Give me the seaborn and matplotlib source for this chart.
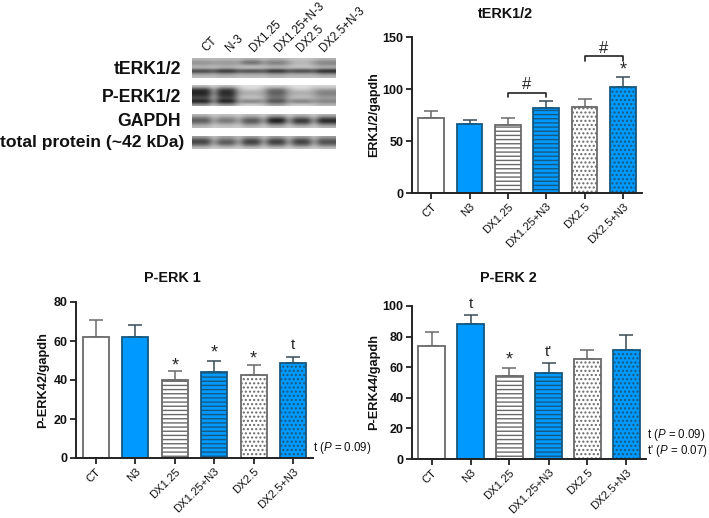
import numpy as np
import matplotlib
matplotlib.use('Agg')
import matplotlib.pyplot as plt
import seaborn as sns

W, H = 709, 518

categories = ['CT', 'N3', 'DX1.25', 'DX1.25+N3', 'DX2.5', 'DX2.5+N3']
lane_labels = ['CT', 'N-3', 'DX1.25', 'DX1.25+N-3', 'DX2.5', 'DX2.5+N-3']

terk_values = [72, 66, 65, 81.5, 83, 102]
terk_tops = [79, 70, 72, 88, 90, 112]
perk1_values = [62, 62, 40, 44, 42.5, 48.5]
perk1_tops = [71, 68, 44.5, 50, 47.5, 52]
perk2_values = [74, 88, 54, 56, 65.5, 71.5]
perk2_tops = [83, 94, 59.5, 62.5, 71, 81]

# blot band darkness per lane, top to bottom (0 black, 255 white)
blot_terk = [[185, 185, 180, 180, 195, 180],
             [140, 150, 90, 115, 180, 125],
             [165, 165, 165, 155, 190, 150],
             [195, 190, 210, 195, 200, 190],
             [35, 15, 40, 10, 35, 0],
             [155, 150, 165, 150, 165, 140],
             [190, 185, 190, 185, 190, 185]]
blot_perk = [[195, 195, 225, 210, 225, 215],
             [50, 60, 205, 110, 205, 160],
             [30, 40, 165, 90, 165, 120],
             [50, 50, 185, 110, 185, 140],
             [90, 80, 195, 120, 185, 160],
             [5, 5, 105, 65, 105, 120],
             [160, 160, 215, 170, 210, 185]]
blot_gapdh = [[185, 195, 190, 180, 185, 180],
              [110, 140, 120, 70, 100, 85],
              [85, 110, 75, 10, 35, 20],
              [140, 165, 130, 105, 110, 110],
              [190, 200, 190, 185, 190, 185]]
blot_total = [[160, 165, 160, 160, 160, 160],
              [75, 110, 75, 75, 75, 90],
              [65, 80, 60, 55, 60, 75],
              [115, 130, 110, 110, 110, 120],
              [195, 200, 195, 195, 195, 195]]

sns.set_theme(style='ticks')
plt.rcParams['font.family'] = ['Liberation Sans', 'DejaVu Sans']
plt.rcParams['mathtext.fontset'] = 'custom'
plt.rcParams['mathtext.it'] = 'Liberation Sans:italic'
plt.rcParams['mathtext.rm'] = 'Liberation Sans'
plt.rcParams['hatch.linewidth'] = 1.0

BLUE = '#0099ff'
DARK = '#222222'
GREY_EDGE = '#6a6a6a'
BLUE_EDGE = '#17587f'

fig = plt.figure(figsize=(W / 100, H / 100), dpi=100, facecolor='white')


def px_axes(left, top, right, bottom):
    return fig.add_axes([left / W, 1 - bottom / H, (right - left) / W, (bottom - top) / H])


def px_text(x, y, s, **kw):
    kw.setdefault('ha', 'center')
    kw.setdefault('va', 'center')
    kw.setdefault('color', '#111111')
    return fig.text(x / W, 1 - y / H, s, **kw)


def bar_chart(rect, values, tops, ymax, yticks):
    ax = px_axes(*rect)
    palette = ['white', BLUE, 'white', BLUE, 'white', BLUE]
    sns.barplot(x=categories, y=values, hue=categories, palette=palette, saturation=1,
                legend=False, width=0.67, ax=ax, zorder=2)
    hatches = ['', '', '----', '----', '....', '....']
    for i, bar in enumerate(ax.patches[:6]):
        edge = GREY_EDGE if i % 2 == 0 else BLUE_EDGE
        bar.set_edgecolor(edge)
        bar.set_linewidth(1.3)
        bar.set_hatch(hatches[i])
        lower = [0]
        upper = [tops[i] - values[i]]
        ax.errorbar(i, values[i], yerr=[lower, upper], color=edge if i % 2 == 0 else '#3a4a55',
                    capsize=4.7, capthick=1.1, elinewidth=1.1, zorder=1)
    ax.set_xlim(-0.5, 5.5)
    ax.set_ylim(0, ymax)
    ax.set_yticks(yticks)
    ax.set_xticks(range(6))
    ax.set_xticklabels(categories, rotation=45, ha='right', rotation_mode='anchor',
                       fontsize=8.1, color='#111111')
    ax.tick_params(axis='y', labelsize=9, length=4, width=1.3, color=DARK, pad=2, labelcolor='#111111')
    ax.tick_params(axis='x', length=4, width=1.3, color=DARK, pad=2)
    for label in ax.get_yticklabels():
        label.set_fontweight('bold')
    sns.despine(ax=ax)
    for side in ['left', 'bottom']:
        ax.spines[side].set_linewidth(1.4)
        ax.spines[side].set_color(DARK)
    return ax


def bracket(ax, a, b, top, leg):
    ax.plot([a, a, b, b], [leg, top, top, leg], color=DARK, lw=1.2, clip_on=False,
            solid_joinstyle='round')


def blot(rect, rows, gap_level):
    ax = px_axes(*rect)
    rows = np.array(rows, dtype=float)
    # pale gap between neighbouring lanes
    gap = rows.mean(axis=1, keepdims=True) * (1 - gap_level) + 215 * gap_level
    columns = []
    for i in range(6):
        columns.extend([rows[:, [i]], rows[:, [i]], rows[:, [i]]])
        if i < 5:
            columns.append(gap)
    ax.imshow(np.hstack(columns), cmap='gray', vmin=0, vmax=255, aspect='auto',
              interpolation='bicubic')
    ax.axis('off')


blot((192, 58, 335, 78), blot_terk, 0.2)
blot((192, 85, 335, 106), blot_perk, 0.5)
blot((192, 114, 335, 128), blot_gapdh, 0.7)
blot((192, 136, 335, 149), blot_total, 0.7)

px_text(181, 69, 'tERK1/2', ha='right', fontsize=12.7, fontweight='bold')
px_text(181, 97, 'P-ERK1/2', ha='right', fontsize=12.7, fontweight='bold')
px_text(181, 121, 'GAPDH', ha='right', fontsize=12.7, fontweight='bold')
px_text(184, 143, 'total protein (~42 kDa)', ha='right', fontsize=12.6, fontweight='bold')

lane_x = [204, 228, 252, 277, 299, 322]
for x, name in zip(lane_x, lane_labels):
    px_text(x, 50, name, ha='left', va='center', rotation=45, rotation_mode='anchor', fontsize=8.4)

ax1 = bar_chart((412, 37, 642, 193), terk_values, terk_tops, 150, [0, 50, 100, 150])
ax1.set_ylabel('ERK1/2/gapdh', fontsize=9, fontweight='bold', labelpad=2, color='#111111')
bracket(ax1, 2, 3, 96.5, 92)
bracket(ax1, 4, 5, 131.5, 126.5)
ax1.text(2.5, 104, '#', ha='center', va='center', fontsize=12)
ax1.text(4.5, 139, '#', ha='center', va='center', fontsize=12)
ax1.text(5, 110, '*', ha='center', va='bottom', fontsize=13)
px_text(505, 14, 'tERK1/2', fontsize=10.4, fontweight='bold')

ax2 = bar_chart((76, 302, 313, 458), perk1_values, perk1_tops, 80, [0, 20, 40, 60, 80])
ax2.set_ylabel('P-ERK42/gapdh', fontsize=9.2, fontweight='bold', labelpad=3, color='#111111')
for i, y in zip([2, 3, 4], [43, 49.5, 46.5]):
    ax2.text(i, y, '*', ha='center', va='bottom', fontsize=13)
ax2.text(5, 58, 't', ha='center', va='center', fontsize=11)
px_text(172, 278, 'P-ERK 1', fontsize=10.4, fontweight='bold')
px_text(313, 448, 't ($\\mathit{P}$ = 0.09)', ha='left', fontsize=8.3)

ax3 = bar_chart((412, 306, 646, 459), perk2_values, perk2_tops, 100, [0, 20, 40, 60, 80, 100])
ax3.set_ylabel('P-ERK44/gapdh', fontsize=9.2, fontweight='bold', labelpad=2, color='#111111')
ax3.text(2, 59, '*', ha='center', va='bottom', fontsize=13)
ax3.text(1, 101, 't', ha='center', va='center', fontsize=11)
ax3.text(3, 70, "t'", ha='center', va='center', fontsize=11)
px_text(508, 278, 'P-ERK 2', fontsize=10.4, fontweight='bold')
px_text(647, 443, 't ($\\mathit{P}$ = 0.09)\nt\' ($\\mathit{P}$ = 0.07)', ha='left', fontsize=8.3,
        linespacing=1.0)

fig.savefig('out.png', dpi=100)
